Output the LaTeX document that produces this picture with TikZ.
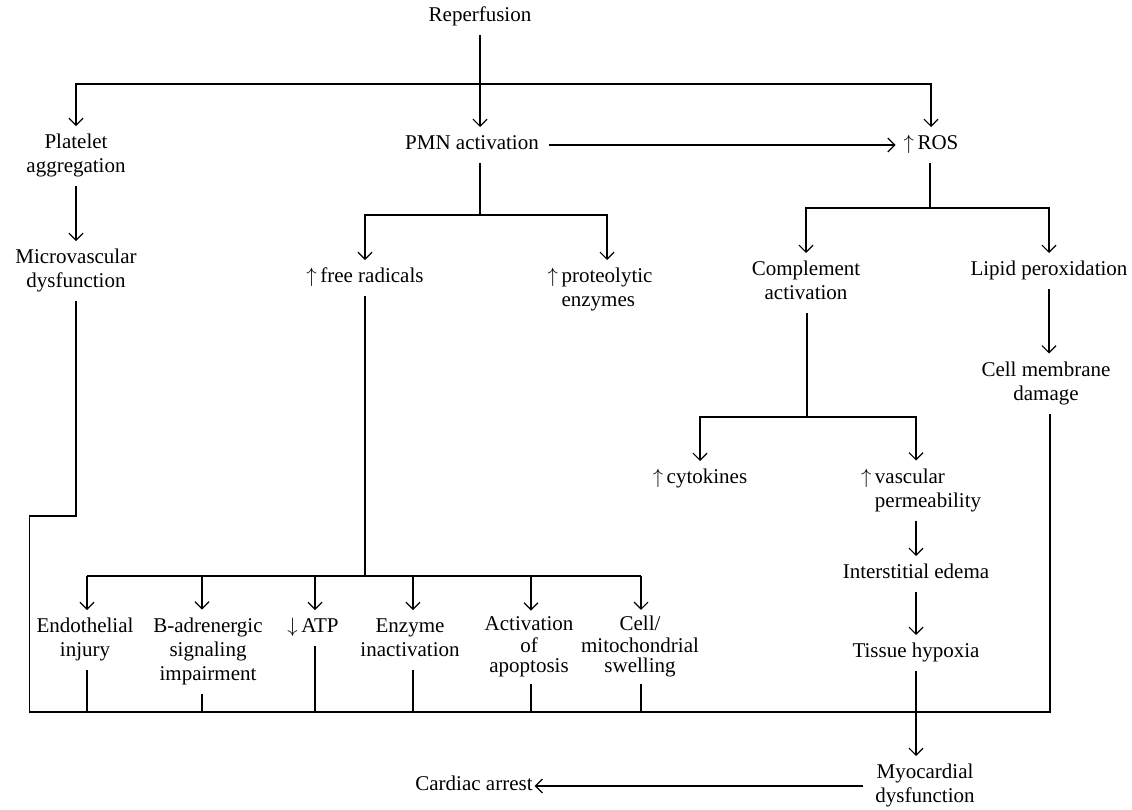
\documentclass[tikz,border=0pt]{standalone}
\usepackage{fontspec}
\setmainfont{Liberation Serif}
\usetikzlibrary{arrows.meta}
\newcommand{\fsz}{\fontsize{21}{24}\selectfont}
\newcommand{\fst}{\fontsize{21}{20}\selectfont}
\newcommand{\upa}{$\uparrow$\,}
\newcommand{\dna}{$\downarrow$\,}
\tikzset{
  lbl/.style={font=\fsz, align=center, inner xsep=2pt, inner ysep=6pt, outer sep=0pt},
  tight/.style={font=\fst},
  arr/.style={-{Straight Barb[length=7pt,width=14pt]}},
}
\begin{document}
\begin{tikzpicture}[x=1pt,y=-1pt,line width=1.2pt]
\useasboundingbox (0,0) rectangle (1132,809);
% nodes
\node[lbl] (rep) at (480,17) {\strut Reperfusion\strut};
\node[lbl] (plat) at (76,156) {\strut Platelet\\aggregation\strut};
\node[lbl] (pmn) at (472,145) {\strut PMN activation\strut};
\node[lbl] (ros) at (931,145) {\strut\upa ROS\strut};
\node[lbl] (micro) at (76,271) {\strut Microvascular\\dysfunction\strut};
\node[lbl] (free) at (365,278) {\strut\upa free radicals\strut};
\node[lbl,align=left] (prot) at (607,290) {\strut\llap{\upa}proteolytic\\enzymes\strut};
\node[lbl] (comp) at (806,283) {\strut Complement\\activation\strut};
\node[lbl] (lipid) at (1049,271) {\strut Lipid peroxidation\strut};
\node[lbl] (cellm) at (1046,383.5) {\strut Cell membrane\\damage\strut};
\node[lbl] (cyto) at (700,479) {\strut\upa cytokines\strut};
\node[lbl,align=left] (vasc) at (928,490.5) {\strut\llap{\upa}vascular\\permeability\strut};
\node[lbl] (edema) at (916,574) {\strut Interstitial edema\strut};
\node[lbl] (hypo) at (916,653) {\strut Tissue hypoxia\strut};
\node[lbl] (myo) at (925,786) {\strut Myocardial\\dysfunction\strut};
\node[lbl] (card) at (474,786) {\strut Cardiac arrest\strut};
\node[lbl] (endo) at (85,640) {\strut Endothelial\\injury\strut};
\node[lbl] (badr) at (208,651.5) {\strut B-adrenergic\\signaling\\impairment\strut};
\node[lbl] (atp) at (313,628) {\strut\dna ATP\strut};
\node[lbl] (enz) at (410,640) {\strut Enzyme\\inactivation\strut};
\node[lbl,tight] (apop) at (529,647.5) {\strut Activation\\of\\apoptosis\strut};
\node[lbl,tight] (mito) at (640,647) {\strut Cell/\\mitochondrial\\swelling\strut};
% junctions
\coordinate (t) at (480,84);
\coordinate (ps) at (480,215);
\coordinate (rs) at (930,208);
\coordinate (cs) at (807,417);
\coordinate (vx) at (916,417);
\coordinate (fs) at (365,576);
\coordinate (mj) at (29.5,516);
\coordinate (bl) at (29.5,712);
\coordinate (br) at (1050,712);
\coordinate (k1) at (87,576);
\coordinate (k2) at (202,576);
\coordinate (k3) at (315,576);
\coordinate (k4) at (413,576);
\coordinate (k5) at (531,576);
\coordinate (k6) at (641,576);
% connectors
\draw (rep) -- (t);
\draw[arr] (t) -- (t |- pmn.north);
\draw[arr] (t) -| (plat);
\draw[arr] (t) -| (ros);
\draw[arr, shorten <=8pt, shorten >=6pt] (pmn) -- (ros);
\draw[arr] (plat) -- (micro);
\draw (micro) |- (mj) -- (bl) -- (br) -- (br |- cellm.south);
\draw (pmn.south -| ps) -- (ps);
\draw[arr] (ps) -| (free);
\draw[arr] (ps) -| (prot);
\draw (ros.south -| rs) -- (rs);
\draw[arr] (rs) -| (comp);
\draw[arr] (rs) -| (lipid);
\draw[arr] (lipid) -- (lipid |- cellm.north);
\draw (comp.south -| cs) -- (cs);
\draw[arr] (cs) -| (cyto);
\draw[arr] (cs) -- (vx) -- (vx |- vasc.north);
\draw[arr] (vx |- vasc.south) -- (edema);
\draw[arr] (edema) -- (hypo);
\draw[arr] (hypo) -- (hypo |- myo.north);
\draw[arr, shorten <=10pt] (myo) -- (card);
\draw (free.south -| fs) -- (fs);
\draw (k1) -- (k6);
\draw[arr] (k1) -- (k1 |- endo.north);
\draw[arr] (k2) -- (k2 |- badr.north);
\draw[arr] (k3) -- (k3 |- atp.north);
\draw[arr] (k4) -- (k4 |- enz.north);
\draw[arr] (k5) -- (k5 |- apop.north);
\draw[arr] (k6) -- (k6 |- mito.north);
\draw (k1 |- endo.south) -- (k1 |- bl);
\draw (k2 |- badr.south) -- (k2 |- bl);
\draw (k3 |- atp.south) -- (k3 |- bl);
\draw (k4 |- enz.south) -- (k4 |- bl);
\draw (k5 |- apop.south) -- (k5 |- bl);
\draw (k6 |- mito.south) -- (k6 |- bl);
\end{tikzpicture}
\end{document}
